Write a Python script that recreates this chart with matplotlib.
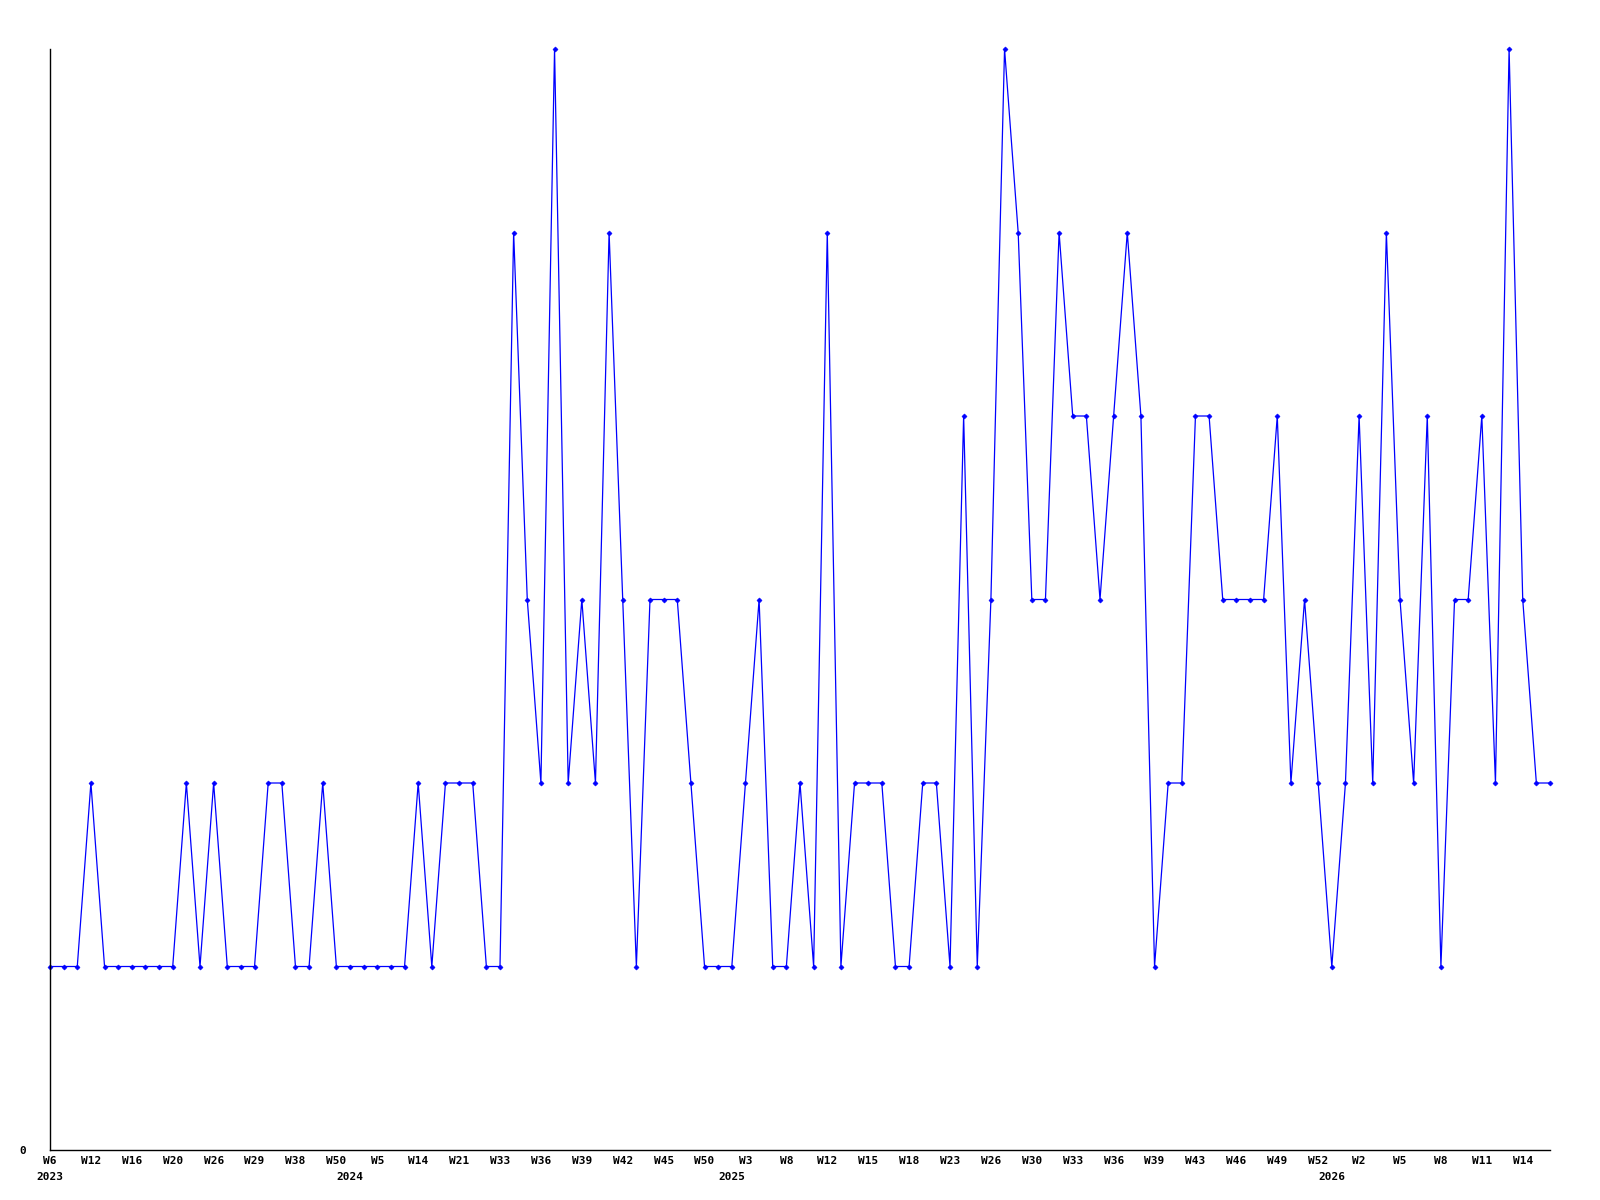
import matplotlib
matplotlib.use("Agg")
import matplotlib.pyplot as plt
import matplotlib.transforms as mtransforms

# weekly counts, one value per observed week
values = [
    1, 1, 1, 2, 1, 1, 1, 1, 1, 1,
    2, 1, 2, 1, 1, 1, 2, 2, 1, 1,
    2, 1, 1, 1, 1, 1, 1, 2, 1, 2,
    2, 2, 1, 1, 5, 3, 2, 6, 2, 3,
    2, 5, 3, 1, 3, 3, 3, 2, 1, 1,
    1, 2, 3, 1, 1, 2, 1, 5, 1, 2,
    2, 2, 1, 1, 2, 2, 1, 4, 1, 3,
    6, 5, 3, 3, 5, 4, 4, 3, 4, 5,
    4, 1, 2, 2, 4, 4, 3, 3, 3, 3,
    4, 2, 3, 2, 1, 2, 4, 2, 5, 3,
    2, 4, 1, 3, 3, 4, 2, 6, 3, 2,
    2,
]

# labels shown under every third week
week_labels = [
    "W6", "W12", "W16", "W20", "W26", "W29", "W38", "W50", "W5", "W14",
    "W21", "W33", "W36", "W39", "W42", "W45", "W50", "W3", "W8", "W12",
    "W15", "W18", "W23", "W26", "W30", "W33", "W36", "W39", "W43", "W46",
    "W49", "W52", "W2", "W5", "W8", "W11", "W14",
]
label_step = 3

year_labels = ["2023", "2024", "2025", "2026"]
year_start = [0, 22, 50, 94]

x = list(range(len(values)))

fig = plt.figure(figsize=(16, 12), dpi=100)
ax = fig.add_axes([50 / 1600, 1 - 1150 / 1200, 1500 / 1600, 1101 / 1200])

ax.plot(x, values, color="#0000ff", linewidth=0.9, marker="D",
        markersize=2.6, markeredgewidth=0.4, clip_on=False)

ax.set_xlim(0, len(values) - 1)
ax.set_ylim(0, 6)

font = dict(family="DejaVu Sans Mono", weight="bold", size=8)

ax.set_xticks(x[::label_step])
ax.set_xticklabels(week_labels, **font)
ax.set_yticks([0])
ax.set_yticklabels(["0"], **font)
ax.tick_params(axis="x", length=0, pad=4)
ax.tick_params(axis="y", length=0, pad=17)

trans = mtransforms.blended_transform_factory(ax.transData, ax.transAxes)
for pos, yr in zip(year_start, year_labels):
    ax.text(pos, -27 / 1101, yr, transform=trans, ha="center", va="center", **font)

for side in ["top", "right"]:
    ax.spines[side].set_visible(False)
ax.spines["left"].set_linewidth(1)
ax.spines["bottom"].set_linewidth(1)

fig.savefig("out.png", dpi=100)
